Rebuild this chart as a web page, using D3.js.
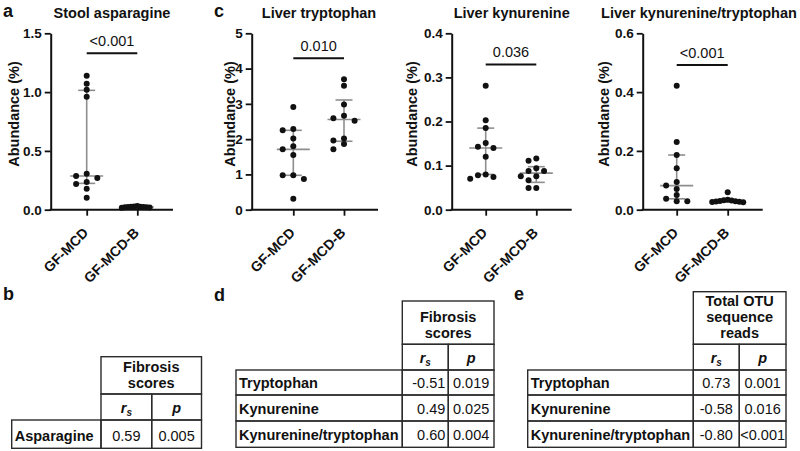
<!DOCTYPE html>
<html><head><meta charset="utf-8">
<script src="https://cdn.jsdelivr.net/npm/d3@7"></script>
<style>
body{margin:0;background:#fff;}
svg{display:block;font-family:"Liberation Sans",Arial,Helvetica,sans-serif;}
</style></head><body>
<svg id="c" width="800" height="451"></svg>
<script>
// ---------------- DATA ----------------
const groups = ["GF-MCD", "GF-MCD-B"];
const titles = ["Stool asparagine", "Liver tryptophan", "Liver kynurenine", "Liver kynurenine/tryptophan"];
const yLabel = "Abundance (%)";
const sigLabels = ["<0.001", "0.010", "0.036", "<0.001"];
const sigLevels = [1.33, 4.29, 0.329, 0.492];
const yMaxes = [1.5, 5, 0.4, 0.6];
const yTicks = [[0, 0.5, 1.0, 1.5], [0, 1, 2, 3, 4, 5], [0, 0.1, 0.2, 0.3, 0.4], [0, 0.2, 0.4, 0.6]];
const yFormats = [".1f", "d", ".1f", ".1f"];

const stoolAsnMCD  = [1.14, 1.07, 1.02, 0.96, 0.305, 0.287, 0.27, 0.236, 0.218, 0.179, 0.102];
const stoolAsnMCDB = [0.031, 0.028, 0.026, 0.025, 0.023, 0.022, 0.021, 0.020, 0.019, 0.017];
const stoolAsnMedian = [0.287, 0.023];
const stoolAsnQ1 = [0.224, 0.020];
const stoolAsnQ3 = [1.015, 0.027];

const liverTrpMCD  = [2.91, 2.29, 2.25, 2.02, 1.80, 1.71, 1.55, 0.98, 0.975, 0.87, 0.31];
const liverTrpMCDB = [3.70, 3.51, 2.98, 2.66, 2.59, 2.52, 2.02, 1.96, 1.86, 1.71];
const liverTrpMedian = [1.71, 2.555];
const liverTrpQ1 = [0.975, 1.94];
const liverTrpQ3 = [2.25, 3.11];

const liverKynMCD  = [0.281, 0.203, 0.185, 0.151, 0.143, 0.140, 0.120, 0.080, 0.078, 0.074, 0.070];
const liverKynMCDB = [0.116, 0.111, 0.094, 0.088, 0.088, 0.076, 0.076, 0.067, 0.049, 0.049];
const liverKynMedian = [0.140, 0.083];
const liverKynQ1 = [0.080, 0.062];
const liverKynQ3 = [0.185, 0.0975];

const ratioMCD  = [0.422, 0.230, 0.186, 0.141, 0.094, 0.082, 0.070, 0.050, 0.037, 0.029, 0.029];
const ratioMCDB = [0.059, 0.034, 0.032, 0.031, 0.030, 0.029, 0.028, 0.027, 0.026, 0.025];
const ratioMedian = [0.082, 0.0295];
const ratioQ1 = [0.037, 0.027];
const ratioQ3 = [0.186, 0.032];

const tableBLabels = ["Asparagine"];
const tableBRs = ["0.59"];
const tableBP = ["0.005"];
const tableBHeader = ["Fibrosis", "scores"];

const tableDLabels = ["Tryptophan", "Kynurenine", "Kynurenine/tryptophan"];
const tableDRs = ["-0.51", "0.49", "0.60"];
const tableDP = ["0.019", "0.025", "0.004"];
const tableDHeader = ["Fibrosis", "scores"];

const tableELabels = ["Tryptophan", "Kynurenine", "Kynurenine/tryptophan"];
const tableERs = ["0.73", "-0.58", "-0.80"];
const tableEP = ["0.001", "0.016", "<0.001"];
const tableEHeader = ["Total OTU", "sequence", "reads"];

// ---------------- LAYOUT ----------------
const series = [
  [stoolAsnMCD, stoolAsnMCDB, stoolAsnMedian, stoolAsnQ1, stoolAsnQ3],
  [liverTrpMCD, liverTrpMCDB, liverTrpMedian, liverTrpQ1, liverTrpQ3],
  [liverKynMCD, liverKynMCDB, liverKynMedian, liverKynQ1, liverKynQ3],
  [ratioMCD, ratioMCDB, ratioMedian, ratioQ1, ratioQ3]
];
const panels = [
  {axisX: 50.7, c1: 86.7, c2: 137.3, end: 173, titleX: 112, ytX: 13.5},
  {axisX: 251.7, c1: 293.3, c2: 344, end: 378, titleX: 319, ytX: 230},
  {axisX: 451.7, c1: 485.7, c2: 536.3, end: 571.7, titleX: 511.7, ytX: 411.5},
  {axisX: 642.7, c1: 676.7, c2: 727.7, end: 762.7, titleX: 699, ytX: 604}
];
const yBottom = 209.7, yTop = 33.3;
const R = 3;
const FS = 14.5;
const svg = d3.select("#c");

function swarm(vals, y, w, maxHalf, d) {
  const order = vals.map((v, i) => i).sort((a, b) => vals[b] - vals[a]);
  const placed = []; const slot = new Array(vals.length);
  for (const i of order) {
    const py = y(vals[i]);
    for (let k = 0; k < 60; k++) {
      const s = k === 0 ? 0 : (k % 2 ? -Math.ceil(k / 2) : Math.ceil(k / 2));
      if (!placed.some(p => p.s === s && Math.abs(p.y - py) < d)) { slot[i] = s; placed.push({s, y: py}); break; }
    }
  }
  const maxS = d3.max(slot, s => Math.abs(s)) || 0;
  const sp = maxS ? Math.min(w, maxHalf / maxS) : w;
  return slot.map(s => s * sp);
}

panels.forEach((P, pi) => {
  const y = d3.scaleLinear().domain([0, yMaxes[pi]]).range([yBottom, yTop]);
  const x = d3.scalePoint().domain(groups).range([P.c1, P.c2]);
  const g = svg.append("g");

  // y axis
  const ya = d3.axisLeft(y).tickValues(yTicks[pi]).tickFormat(d3.format(yFormats[pi]))
    .tickSize(6).tickSizeOuter(0).tickPadding(3);
  const yg = g.append("g").attr("transform", `translate(${P.axisX},0)`).call(ya);
  yg.select(".domain").attr("stroke", "#111").attr("stroke-width", 2);
  yg.selectAll(".tick line").attr("stroke", "#111").attr("stroke-width", 1.8);
  yg.selectAll(".tick text").attr("font-size", 13.5).attr("font-weight", "bold").attr("fill", "#111")
    .attr("font-family", "Liberation Sans, Arial, sans-serif");

  // x axis
  g.append("line").attr("x1", P.axisX - 1).attr("x2", P.end).attr("y1", yBottom).attr("y2", yBottom)
    .attr("stroke", "#111").attr("stroke-width", 2);
  const xa = d3.axisBottom(x).tickSize(6).tickSizeOuter(0).tickFormat("");
  const xg = g.append("g").attr("transform", `translate(0,${yBottom})`).call(xa);
  xg.select(".domain").remove();
  xg.selectAll(".tick line").attr("stroke", "#111").attr("stroke-width", 1.8);
  g.selectAll("text.xl").data(groups).enter().append("text")
    .attr("class", "xl")
    .attr("transform", d => `translate(${x(d) + 2.5},${yBottom + 24}) rotate(-45)`)
    .attr("text-anchor", "end").attr("font-size", 14).attr("font-weight", "bold").attr("fill", "#111")
    .text(d => d);

  // title
  g.append("text").attr("x", P.titleX).attr("y", 17.5).attr("text-anchor", "middle")
    .attr("font-size", FS).attr("font-weight", "bold").attr("fill", "#111").text(titles[pi]);

  // y label
  g.append("text").attr("transform", `translate(${P.ytX + 5},${114}) rotate(-90)`)
    .attr("text-anchor", "middle").attr("font-size", FS).attr("font-weight", "bold").attr("fill", "#111")
    .text(yLabel);

  // significance
  const sy = y(sigLevels[pi]);
  g.append("line").attr("x1", x(groups[0])).attr("x2", x(groups[1])).attr("y1", sy).attr("y2", sy)
    .attr("stroke", "#111").attr("stroke-width", 2);
  g.append("text").attr("x", (x(groups[0]) + x(groups[1])) / 2).attr("y", sy - 7.2)
    .attr("text-anchor", "middle").attr("font-size", FS).attr("fill", "#111").text(sigLabels[pi]);

  const [a, b, med, q1, q3] = series[pi];
  // error bars (median + IQR)
  groups.forEach((grp, gi) => {
    const cx = x(grp);
    const eb = g.append("g").attr("stroke", "#8e8e8e").attr("stroke-width", 1.6);
    eb.append("line").attr("x1", cx).attr("x2", cx).attr("y1", y(q1[gi])).attr("y2", y(q3[gi]));
    eb.append("line").attr("x1", cx - 16.5).attr("x2", cx + 16.5).attr("y1", y(med[gi])).attr("y2", y(med[gi]));
    eb.append("line").attr("x1", cx - 8.5).attr("x2", cx + 8.5).attr("y1", y(q1[gi])).attr("y2", y(q1[gi]));
    eb.append("line").attr("x1", cx - 8.5).attr("x2", cx + 8.5).attr("y1", y(q3[gi])).attr("y2", y(q3[gi]));
  });
  // dots
  [a, b].forEach((vals, gi) => {
    const offs = swarm(vals, y, 10.6, 15.5, 5.5);
    g.selectAll(null).data(vals).enter().append("circle")
      .attr("cx", (d, i) => x(groups[gi]) + offs[i]).attr("cy", d => y(d)).attr("r", R).attr("fill", "#111");
  });
});

// panel letters
const letters = [["a", 3, 16.5], ["c", 214, 16.5], ["b", 3, 300], ["d", 214, 301], ["e", 514, 300]];
svg.selectAll("text.pl").data(letters).enter().append("text").attr("class", "pl")
  .attr("x", d => d[1]).attr("y", d => d[2]).attr("font-size", 18).attr("font-weight", "bold")
  .attr("fill", "#111").text(d => d[0]);

// ---------------- TABLES ----------------
function drawTable(T, labels, rs, ps, head, rsAlign) {
  const g = svg.append("g");
  const st = "#2b2b2b", sw = 1.4;
  const rect = (x0, y0, x1, y1) => g.append("rect").attr("x", x0).attr("y", y0)
    .attr("width", x1 - x0).attr("height", y1 - y0).attr("fill", "none").attr("stroke", st).attr("stroke-width", sw);
  rect(T.c1, T.top, T.right, T.hb);
  rect(T.c1, T.hb, T.c2, T.sb);
  rect(T.c2, T.hb, T.right, T.sb);
  const hc = (T.c1 + T.right) / 2;
  head.forEach((h, k) => {
    g.append("text").attr("x", hc).attr("y", T.hb - 6 - (head.length - 1 - k) * 16.3)
      .attr("text-anchor", "middle").attr("font-size", FS).attr("font-weight", "bold").attr("fill", "#111").text(h);
  });
  const rsT = g.append("text").attr("x", (T.c1 + T.c2) / 2).attr("y", T.sb - 7.5).attr("text-anchor", "middle")
    .attr("font-weight", "bold").attr("font-style", "italic").attr("fill", "#111");
  rsT.append("tspan").attr("font-size", FS).text("r");
  rsT.append("tspan").attr("font-size", 10).attr("dy", 3).text("s");
  g.append("text").attr("x", (T.c2 + T.right) / 2).attr("y", T.sb - 7.5).attr("text-anchor", "middle")
    .attr("font-size", FS).attr("font-weight", "bold").attr("font-style", "italic").attr("fill", "#111").text("p");
  labels.forEach((l, i) => {
    const top = i ? T.rows[i - 1] : T.sb, bot = T.rows[i];
    rect(T.left, top, T.c1, bot); rect(T.c1, top, T.c2, bot); rect(T.c2, top, T.right, bot);
    g.append("text").attr("x", T.left + 3).attr("y", bot - 7.5).attr("font-size", FS).attr("font-weight", "bold")
      .attr("fill", "#111").text(l);
    if (rsAlign === "end") {
      g.append("text").attr("x", T.c2 - 3).attr("y", bot - 7.5).attr("text-anchor", "end")
        .attr("font-size", FS).attr("fill", "#111").text(rs[i]);
    } else {
      g.append("text").attr("x", (T.c1 + T.c2) / 2).attr("y", bot - 7.5).attr("text-anchor", "middle")
        .attr("font-size", FS).attr("fill", "#111").text(rs[i]);
    }
    g.append("text").attr("x", (T.c2 + T.right) / 2).attr("y", bot - 7.5).attr("text-anchor", "middle")
      .attr("font-size", FS).attr("fill", "#111").text(ps[i]);
  });
}

drawTable({left: 11.7, c1: 101, c2: 151.7, right: 201.5, top: 356.7, hb: 394, sb: 420, rows: [448.3]},
  tableBLabels, tableBRs, tableBP, tableBHeader, "middle");
drawTable({left: 236, c1: 402.3, c2: 448.3, right: 494, top: 301, hb: 344.3, sb: 370, rows: [395, 421, 447.3]},
  tableDLabels, tableDRs, tableDP, tableDHeader, "end");
drawTable({left: 527.7, c1: 693.3, c2: 739.3, right: 786, top: 291.7, hb: 344.3, sb: 370, rows: [395, 421, 447.3]},
  tableELabels, tableERs, tableEP, tableEHeader, "middle");
</script>
</body></html>
